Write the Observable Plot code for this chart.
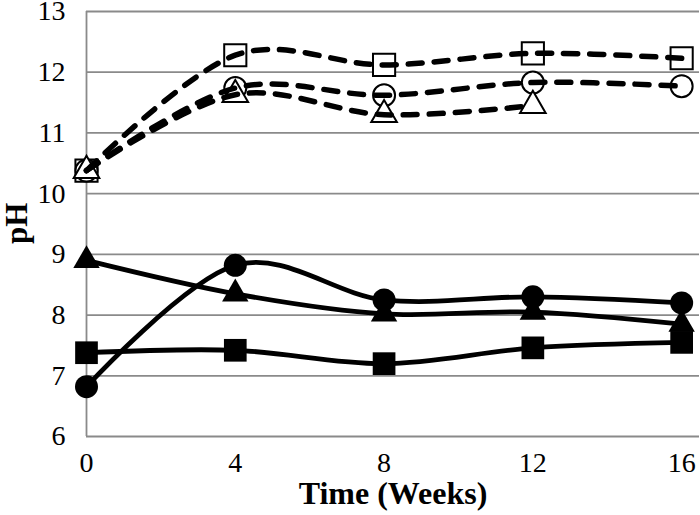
<!DOCTYPE html>
<html>
<head>
<meta charset="utf-8">
<script src="https://cdn.jsdelivr.net/npm/d3@7"></script>
<script src="https://cdn.jsdelivr.net/npm/@observablehq/plot@0.6"></script>
<style>
  html, body { margin: 0; padding: 0; background: #fff; }
  #chart svg, #chart svg text { font-family: "Liberation Serif", "Times New Roman", serif !important; }
</style>
</head>
<body>
<div id="chart"></div>
<script>
const weeks = [0, 4, 8, 12, 16];
const openSquare   = [10.38, 12.28, 12.12, 12.31, 12.23];
const openCircle   = [10.38, 11.74, 11.62, 11.83, 11.77];
const openTriangle = [10.38, 11.63, 11.30, 11.45];
const filledCircle   = [6.82, 8.82, 8.25, 8.30, 8.20];
const filledTriangle = [8.90, 8.35, 8.02, 8.05, 7.85];
const filledSquare   = [7.38, 7.42, 7.20, 7.46, 7.55];
const xTicks = [0, 4, 8, 12, 16];
const yTicks = [6, 7, 8, 9, 10, 11, 12, 13];
const xLabel = "Time (Weeks)";
const yLabel = "pH";

const toRows = (vals) => vals.map((v, i) => ({week: weeks[i], ph: v}));
const oSq = toRows(openSquare), oCi = toRows(openCircle), oTr = toRows(openTriangle);
const fCi = toRows(filledCircle), fTr = toRows(filledTriangle), fSq = toRows(filledSquare);

const gridColor = "#8a8a8a";
const font = "Liberation Serif";

const solid = (data) => Plot.line(data, {x: "week", y: "ph", curve: "cardinal", stroke: "black", strokeWidth: 4.8});
const dashed = (data) => Plot.line(data, {x: "week", y: "ph", curve: "cardinal", stroke: "black", strokeWidth: 5.5, strokeDasharray: "14,12", strokeLinecap: "round"});

const chart = Plot.plot({
  width: 700,
  height: 515,
  marginLeft: 86,
  marginRight: 1,
  marginTop: 11,
  marginBottom: 79,
  style: {fontFamily: font, background: "white", color: "black"},
  x: {domain: [0, 16.48]},
  y: {domain: [6, 13]},
  marks: [
    Plot.ruleY(yTicks, {stroke: gridColor, strokeWidth: 1.8}),
    Plot.ruleX([0], {y1: 6, y2: 13, stroke: gridColor, strokeWidth: 1.8}),
    Plot.axisX({ticks: xTicks, tickSize: 0, tickPadding: 16, fontSize: 28, fontFamily: font, tickFormat: d => String(d), label: null}),
    Plot.axisY({ticks: yTicks, tickSize: 0, tickPadding: 21, fontSize: 28, fontFamily: font, tickFormat: d => String(d), label: null}),
    Plot.text([xLabel], {frameAnchor: "bottom", dy: 67, fontSize: 32, fontFamily: font, fontWeight: "bold", fill: "black"}),
    Plot.text([yLabel], {frameAnchor: "left", dx: -69, dy: 20, rotate: -90, fontSize: 31, fontFamily: font, fontWeight: "bold", fill: "black"}),
    // filled series
    solid(fSq), solid(fTr), solid(fCi),
    Plot.dot(fSq, {x: "week", y: "ph", symbol: "square", r: 12.8, fill: "black", stroke: "none"}),
    Plot.dot(fTr, {x: "week", y: "ph", symbol: "triangle", r: 9.8, fill: "black", stroke: "none"}),
    Plot.dot(fCi, {x: "week", y: "ph", symbol: "circle", r: 11.5, fill: "black", stroke: "none"}),
    // open series
    Plot.dot(oSq, {x: "week", y: "ph", symbol: "square", r: 12.5, fill: "white", stroke: "black", strokeWidth: 2}),
    Plot.dot(oCi, {x: "week", y: "ph", symbol: "circle", r: 11, fill: "white", stroke: "black", strokeWidth: 2}),
    Plot.dot(oTr, {x: "week", y: "ph", symbol: "triangle", r: 9.5, fill: "white", stroke: "black", strokeWidth: 2}),
    dashed(oSq), dashed(oCi), dashed(oTr)
  ]
});
document.getElementById("chart").appendChild(chart);
</script>
</body>
</html>
